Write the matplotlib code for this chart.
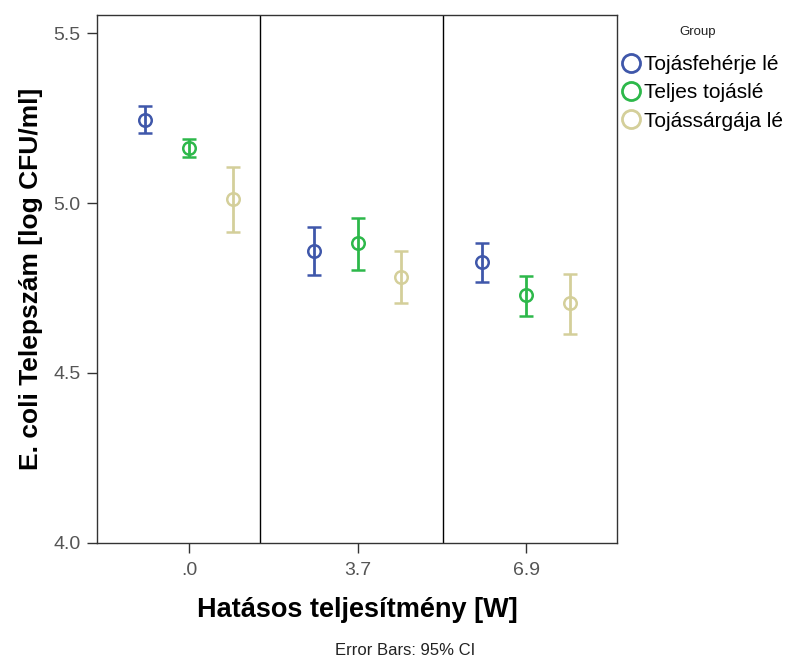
import matplotlib.pyplot as plt
from matplotlib.lines import Line2D

plt.rcParams['font.family'] = ['Liberation Sans', 'DejaVu Sans']

# data
power_labels = ['.0', '3.7', '6.9']
groups = ['Tojásfehérje lé', 'Teljes tojáslé', 'Tojássárgája lé']
colors = ['#3F57AA', '#2DB84A', '#D4CF9A']

means = {
    'Tojásfehérje lé': [5.244, 4.859, 4.826],
    'Teljes tojáslé': [5.162, 4.882, 4.729],
    'Tojássárgája lé': [5.012, 4.782, 4.706],
}
ci_low = {
    'Tojásfehérje lé': [5.206, 4.788, 4.768],
    'Teljes tojáslé': [5.135, 4.803, 4.668],
    'Tojássárgája lé': [4.915, 4.706, 4.615],
}
ci_high = {
    'Tojásfehérje lé': [5.285, 4.929, 4.882],
    'Teljes tojáslé': [5.188, 4.956, 4.785],
    'Tojássárgája lé': [5.106, 4.859, 4.791],
}

fig = plt.figure(figsize=(7.87, 6.63), dpi=100)
ax = fig.add_axes([0.1233, 0.181, 0.6607, 0.7964])

offsets = [-0.26, 0.0, 0.26]
for g, c, off in zip(groups, colors, offsets):
    xs = [i + off for i in range(len(power_labels))]
    m = means[g]
    lo = [mm - l for mm, l in zip(m, ci_low[g])]
    hi = [h - mm for mm, h in zip(m, ci_high[g])]
    ax.errorbar(xs, m, yerr=[lo, hi], fmt='o', color=c, mfc='none', mec=c,
                ms=9, mew=1.8, elinewidth=2, capsize=5, capthick=2)

# separators between clusters
for sx in [0.42, 1.51]:
    ax.axvline(sx, color='black', lw=1)

ax.set_xlim(-0.546, 2.54)
ax.set_ylim(4.0, 5.553)
ax.set_xticks(range(len(power_labels)))
ax.set_xticklabels(power_labels)
ax.set_yticks([4.0, 4.5, 5.0, 5.5])
ax.set_yticklabels(['4.0', '4.5', '5.0', '5.5'])
ax.tick_params(direction='out', length=7, width=1, colors='#333333',
               labelsize=14, labelcolor='#555555', pad=5)
ax.tick_params(axis='x', pad=7)
for sp in ax.spines.values():
    sp.set_color('#333333')
    sp.set_linewidth(1)

ax.set_xlabel('Hatásos teljesítmény [W]', fontsize=19.5, fontweight='bold', labelpad=13)
ax.set_ylabel('E. coli Telepszám [log CFU/ml]', fontsize=19, fontweight='bold', labelpad=7)

handles = [Line2D([], [], marker='o', ls='none', mfc='none', mec=c, ms=13, mew=2)
           for c in colors]
leg = fig.legend(handles, groups, loc='upper left',
                 bbox_to_anchor=(0.788, 0.917), frameon=False, fontsize=15,
                 handletextpad=0.15, handlelength=1.0,
                 labelspacing=0.45, borderaxespad=0, borderpad=0)
fig.text(0.887, 0.951, 'Group', ha='center', va='center', fontsize=9.5, color='#222222')

fig.text(0.515, 0.012, 'Error Bars: 95% CI', ha='center',
         fontsize=12, color='#222222')

fig.savefig('out.png', dpi=100)
